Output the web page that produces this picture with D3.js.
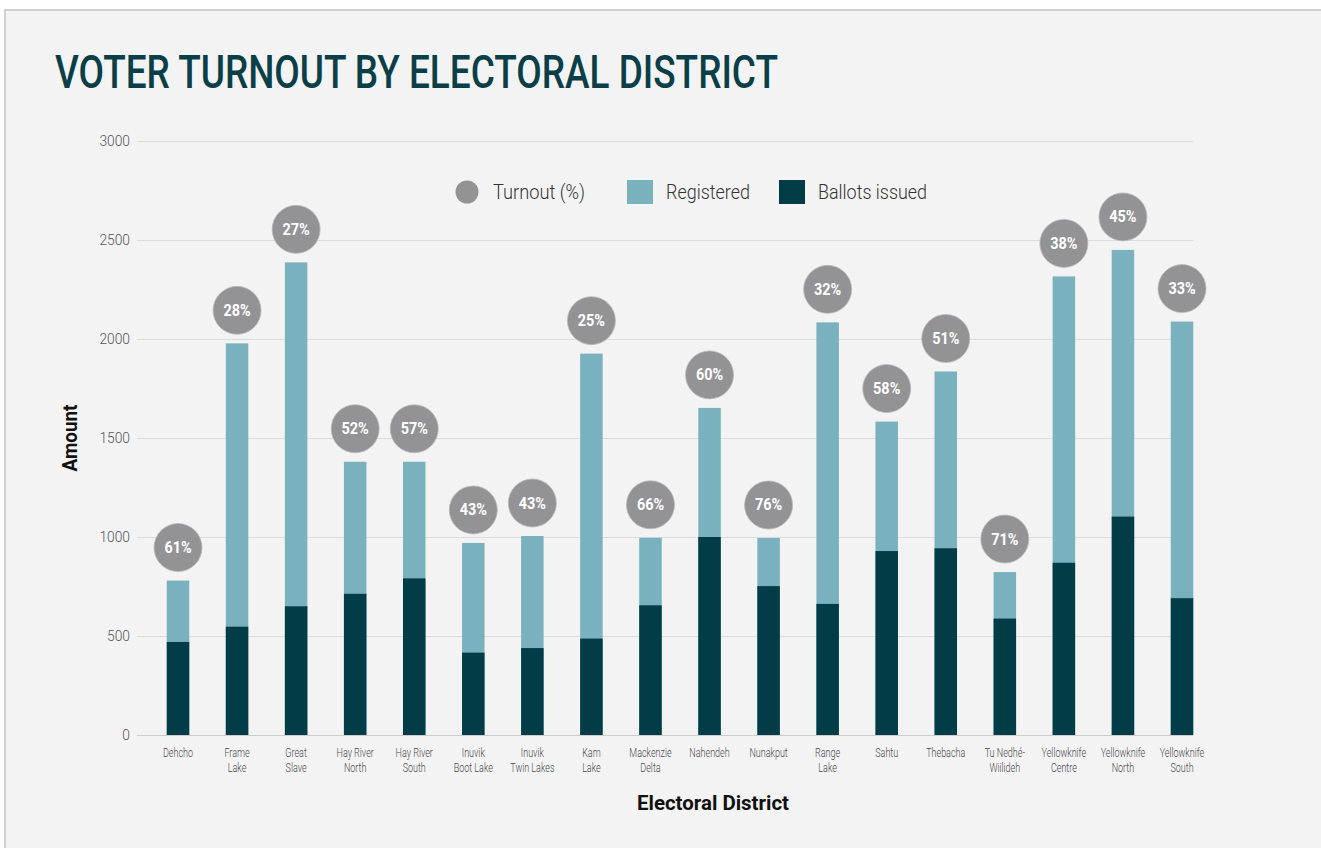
<!DOCTYPE html>
<html>
<head>
<meta charset="utf-8">
<script src="https://cdn.jsdelivr.net/npm/d3@7"></script>
<style>
  html, body { margin: 0; padding: 0; background: #fff; }
  svg { display: block; }
  text { font-family: Roboto, "Liberation Sans", sans-serif; }
</style>
</head>
<body>
<svg id="chart"></svg>
<script>
// Districts, label lines for each
const districts = [
  ["Dehcho"], ["Frame", "Lake"], ["Great", "Slave"], ["Hay River", "North"],
  ["Hay River", "South"], ["Inuvik", "Boot Lake"], ["Inuvik", "Twin Lakes"],
  ["Kam", "Lake"], ["Mackenzie", "Delta"], ["Nahendeh"], ["Nunakput"],
  ["Range", "Lake"], ["Sahtu"], ["Thebacha"], ["Tu Nedhé-", "Wiilideh"],
  ["Yellowknife", "Centre"], ["Yellowknife", "North"], ["Yellowknife", "South"]
];
const registered = [780, 1978, 2387, 1380, 1380, 970, 1005, 1926, 996, 1652, 995, 2084, 1583, 1836, 823, 2316, 2450, 2088];
const ballots = [470, 547, 650, 713, 791, 416, 439, 487, 655, 1000, 752, 662, 929, 943, 588, 870, 1103, 691];
const turnout = [61, 28, 27, 52, 57, 43, 43, 25, 66, 60, 76, 32, 58, 51, 71, 38, 45, 33];
const yTicks = [0, 500, 1000, 1500, 2000, 2500, 3000];
const legendItems = ["Turnout (%)", "Registered", "Ballots issued"];

const colors = { reg: "#7ab1be", ballots: "#023c46", bubble: "#939396", title: "#0b3f48" };

const width = 1321, height = 848;
const plotLeft = 137, plotRight = 1193;
const barWidth = 22.5;

// squeeze text horizontally (reference uses a condensed face)
const condense = (sel, k) => {
  sel.each(function () {
    const w = this.getComputedTextLength();
    d3.select(this).attr("textLength", w * k).attr("lengthAdjust", "spacingAndGlyphs");
  });
};

const svg = d3.select("#chart").attr("width", width).attr("height", height);

// frame
svg.append("rect")
  .attr("x", 5).attr("y", 10)
  .attr("width", width + 20).attr("height", height + 20)
  .attr("fill", "#f3f3f3")
  .attr("stroke", "#cfcfcf")
  .attr("stroke-width", 2);

// title
svg.append("text")
  .attr("x", 55).attr("y", 88)
  .attr("fill", colors.title)
  .attr("textLength", 723)
  .attr("lengthAdjust", "spacingAndGlyphs")
  .style("font-size", "46px")
  .style("font-weight", "500")
  .text("VOTER TURNOUT BY ELECTORAL DISTRICT");

const names = districts.map((d) => d.join(" "));

const xScale = d3.scalePoint().domain(names).range([178, 1182]);
const yScale = d3.scaleLinear().domain([0, 3000]).range([735, 141]);

// y axis with gridlines
const yAxis = svg.append("g")
  .attr("class", "y-axis")
  .attr("transform", "translate(" + plotLeft + ",0)")
  .call(
    d3.axisLeft(yScale)
      .tickValues(yTicks)
      .tickFormat(d3.format("d"))
      .tickSize(-(plotRight - plotLeft))
      .tickPadding(7)
  );
yAxis.select(".domain").remove();
yAxis.selectAll(".tick line").attr("stroke", "#dcdcdc").attr("stroke-width", 1);
yAxis.selectAll(".tick text")
  .attr("fill", "#555")
  .style("font-size", "15px")
  .style("font-weight", "300")
  .style("font-family", "Roboto, sans-serif")
  .call(condense, 0.92);
yAxis.selectAll(".tick").filter((d) => d === 0).select("line").attr("stroke", "#cccccc");

// y title
svg.append("text")
  .attr("transform", "translate(77,438) rotate(-90)")
  .attr("text-anchor", "middle")
  .attr("fill", "#111")
  .attr("textLength", 67)
  .attr("lengthAdjust", "spacingAndGlyphs")
  .style("font-size", "20px")
  .style("font-weight", "bold")
  .text("Amount");

// bars
const bars = svg.append("g").attr("class", "bars");
names.forEach((n, i) => {
  const cx = xScale(n);
  bars.append("rect")
    .attr("x", cx - barWidth / 2)
    .attr("y", yScale(registered[i]))
    .attr("width", barWidth)
    .attr("height", yScale(0) - yScale(registered[i]))
    .attr("fill", colors.reg);
  bars.append("rect")
    .attr("x", cx - barWidth / 2)
    .attr("y", yScale(ballots[i]))
    .attr("width", barWidth)
    .attr("height", yScale(0) - yScale(ballots[i]))
    .attr("fill", colors.ballots);
});

// turnout bubbles
const bubbles = svg.append("g").attr("class", "bubbles");
names.forEach((n, i) => {
  const cx = xScale(n);
  const cy = yScale(registered[i]) - 33;
  bubbles.append("circle")
    .attr("cx", cx).attr("cy", cy).attr("r", 24)
    .attr("fill", colors.bubble)
    .attr("stroke", "#b9b9bb").attr("stroke-width", 0.8);
  bubbles.append("text")
    .attr("x", cx).attr("y", cy + 5.5)
    .attr("text-anchor", "middle")
    .attr("fill", "#fff")
    .style("font-size", "16px")
    .style("font-weight", "bold")
    .text(turnout[i] + "%")
    .call(condense, 0.9);
});

// x labels
const xLabels = svg.append("g").attr("class", "x-labels");
districts.forEach((lines, i) => {
  lines.forEach((l, j) => {
    xLabels.append("text")
      .attr("x", xScale(names[i]))
      .attr("y", 757 + j * 14.5)
      .attr("text-anchor", "middle")
      .attr("fill", "#4a4a4a")
      .style("font-size", "12.5px")
      .style("font-weight", "300")
      .text(l)
      .call(condense, 0.72);
  });
});

// x title
svg.append("text")
  .attr("x", 713).attr("y", 810)
  .attr("text-anchor", "middle")
  .attr("fill", "#111")
  .attr("textLength", 152)
  .attr("lengthAdjust", "spacingAndGlyphs")
  .style("font-size", "20px")
  .style("font-weight", "bold")
  .text("Electoral District");

// legend
const legend = svg.append("g").attr("class", "legend");
const legendText = (x, label, w) =>
  legend.append("text").attr("x", x).attr("y", 199).attr("fill", "#333")
    .attr("textLength", w).attr("lengthAdjust", "spacingAndGlyphs")
    .style("font-size", "20px").style("font-weight", "300").text(label);
legend.append("circle").attr("cx", 467).attr("cy", 192).attr("r", 11.5).attr("fill", colors.bubble);
legendText(493, legendItems[0], 92);
legend.append("rect").attr("x", 627).attr("y", 180).attr("width", 26).attr("height", 24).attr("fill", colors.reg);
legendText(666, legendItems[1], 84);
legend.append("rect").attr("x", 779).attr("y", 180).attr("width", 26).attr("height", 24).attr("fill", colors.ballots);
legendText(818, legendItems[2], 109);
</script>
</body>
</html>
